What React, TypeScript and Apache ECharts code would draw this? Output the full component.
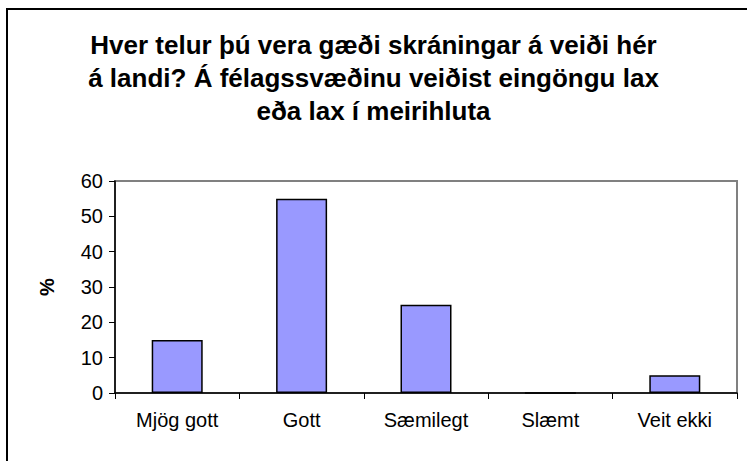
import React, { useEffect, useRef } from "react";
import * as echarts from "echarts";

const titleLines = [
  "Hver telur þú vera gæði skráningar á veiði hér",
  "á landi? Á félagssvæðinu veiðist eingöngu lax",
  "eða lax í meirihluta",
];
const categories = ["Mjög gott", "Gott", "Sæmilegt", "Slæmt", "Veit ekki"];
const values = [15, 55, 25, 0, 5];
const yAxisName = "%";

export default function App() {
  const ref = useRef<HTMLDivElement>(null);
  useEffect(() => {
    if (!ref.current) return;
    const chart = echarts.init(ref.current, undefined, { renderer: "svg" });
    chart.setOption({
      animation: false,
      backgroundColor: "#ffffff",
      textStyle: { fontFamily: "Liberation Sans" },
      title: {
        text: titleLines.join("\n"),
        left: "center",
        top: 23,
        textStyle: {
          fontFamily: "Liberation Sans",
          fontWeight: "bold",
          fontSize: 26,
          lineHeight: 33,
          color: "#000",
        },
      },
      graphic: [
        {
          type: "rect",
          shape: { x: 7, y: 9, width: 800, height: 500 },
          style: { fill: "none", stroke: "#000", lineWidth: 2 },
          z: 100,
        },
      ],
      grid: {
        left: 115,
        right: 10,
        top: 181,
        bottom: 68,
        show: true,
        borderColor: "#808080",
        borderWidth: 2,
        backgroundColor: "#fff",
      },
      xAxis: {
        type: "category",
        data: categories,
        axisLine: { show: true, lineStyle: { color: "#000", width: 1.5 } },
        axisTick: { show: true, length: 6, lineStyle: { color: "#000" } },
        axisLabel: { fontSize: 20, color: "#000", margin: 17, fontFamily: "Liberation Sans" },
      },
      yAxis: {
        type: "value",
        min: 0,
        max: 60,
        interval: 10,
        name: yAxisName,
        nameLocation: "middle",
        nameGap: 58,
        nameRotate: 90,
        nameTextStyle: { fontSize: 20, fontWeight: "bold", color: "#000", fontFamily: "Liberation Sans" },
        axisLine: { show: true, lineStyle: { color: "#000", width: 1.5 } },
        axisTick: { show: true, length: 6, lineStyle: { color: "#000" } },
        axisLabel: { fontSize: 20, color: "#000", margin: 12, fontFamily: "Liberation Sans" },
        splitLine: { show: false },
      },
      series: [
        {
          type: "bar",
          data: values,
          barWidth: 51,
          itemStyle: { color: "#9999FF", borderColor: "#000", borderWidth: 1.5 },
        },
      ],
    });
    return () => chart.dispose();
  }, []);
  return (
    <div
      ref={ref}
      style={{ position: "absolute", left: 0, top: 0, width: 747, height: 461 }}
    />
  );
}
